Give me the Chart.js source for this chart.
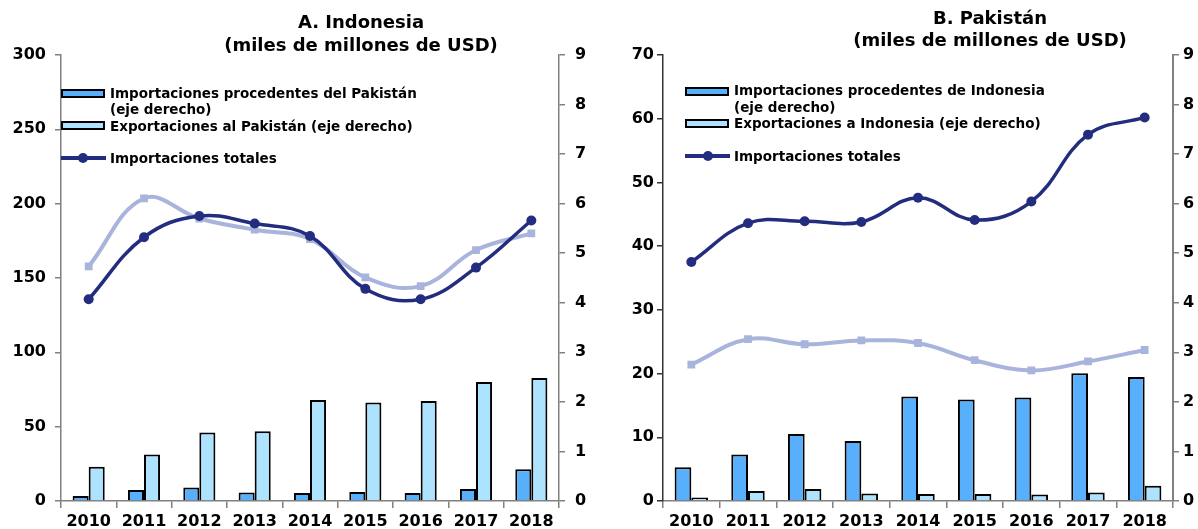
<!DOCTYPE html>
<html>
<head>
<meta charset="utf-8">
<script src="https://cdn.jsdelivr.net/npm/chart.js@4"></script>
<style>
  body { margin: 0; background: #fff; }
  #wrap { position: relative; width: 1198px; height: 529px; overflow: hidden; font-family: "DejaVu Sans", Verdana, sans-serif; }
  canvas { position: absolute; top: 0; }
  .title { position: absolute; width: 400px; text-align: center; font-weight: bold; font-size: 18px; line-height: 23px; color: #000; }
  .lg { position: absolute; font-weight: bold; font-size: 13.5px; line-height: 16px; color: #000; white-space: nowrap; }
  .sw { position: absolute; box-sizing: border-box; border: 2px solid #000; width: 44px; height: 9px; }
  .ln { position: absolute; height: 4px; width: 45px; background: #222d7f; }
  .dot { position: absolute; width: 10px; height: 10px; border-radius: 50%; background: #222d7f; }
</style>
</head>
<body>
<div id="wrap">
  <canvas id="chartA" width="599" height="529" style="left:0"></canvas>
  <canvas id="chartB" width="599" height="529" style="left:599px"></canvas>

  <div class="title" style="left:161px; top:10px">A. Indonesia<br>(miles de millones de USD)</div>
  <div class="title" style="left:790px; top:7px; line-height:22px">B. Pakistán<br>(miles de millones de USD)</div>

  <!-- legend A -->
  <div class="sw" style="left:61px; top:89px; background:#58b0fc"></div>
  <div class="lg" style="left:110px; top:85px">Importaciones procedentes del Pakistán<br>(eje derecho)</div>
  <div class="sw" style="left:61px; top:121px; background:#ade3ff"></div>
  <div class="lg" style="left:110px; top:118px">Exportaciones al Pakistán (eje derecho)</div>
  <div class="ln" style="left:61px; top:156px"></div>
  <div class="dot" style="left:78px; top:153px"></div>
  <div class="lg" style="left:110px; top:150px">Importaciones totales</div>

  <!-- legend B -->
  <div class="sw" style="left:685px; top:87px; background:#58b0fc"></div>
  <div class="lg" style="left:734px; top:82px; line-height:17px">Importaciones procedentes de Indonesia<br>(eje derecho)</div>
  <div class="sw" style="left:685px; top:119px; background:#ade3ff"></div>
  <div class="lg" style="left:734px; top:115px">Exportaciones a Indonesia (eje derecho)</div>
  <div class="ln" style="left:685px; top:154px"></div>
  <div class="dot" style="left:703px; top:151px"></div>
  <div class="lg" style="left:734px; top:148px">Importaciones totales</div>
</div>

<script>
// Years on the x axis
const years = ['2010', '2011', '2012', '2013', '2014', '2015', '2016', '2017', '2018'];

// Panel A: Indonesia
const idnImportsFromPak = [0.10, 0.22, 0.27, 0.17, 0.16, 0.18, 0.16, 0.24, 0.64]; // right axis
const idnExportsToPak = [0.69, 0.94, 1.38, 1.41, 2.04, 1.99, 2.02, 2.40, 2.48];   // right axis
const idnTotalImports = [135.7, 177.4, 191.7, 186.6, 178.2, 142.7, 135.7, 157.0, 188.7];
const idnTotalExports = [157.8, 203.5, 190.0, 182.5, 176.2, 150.4, 144.5, 168.8, 180.0];

// Panel B: Pakistan
const pakImportsFromIdn = [0.68, 0.94, 1.35, 1.21, 2.11, 2.05, 2.09, 2.58, 2.50]; // right axis
const pakExportsToIdn = [0.07, 0.20, 0.24, 0.15, 0.14, 0.14, 0.13, 0.17, 0.31];   // right axis
const pakTotalImports = [37.5, 43.6, 43.9, 43.8, 47.6, 44.1, 47.0, 57.5, 60.2];
const pakTotalExports = [21.4, 25.4, 24.6, 25.2, 24.8, 22.1, 20.5, 21.9, 23.7];

const darkBlue = '#58b0fc';
const lightBlue = '#ade3ff';
const navy = '#222d7f';
const lavender = '#a9b4dc';
const axisGray = '#808080';
const tickFont = { family: '"DejaVu Sans", Verdana, sans-serif', size: 16, weight: 'bold' };

function buildPanel(canvasId, p) {
    const ctx = document.getElementById(canvasId).getContext('2d');

    const datasets = [
        {
            type: 'line', data: p.totalImports, yAxisID: 'y', order: 0,
            borderColor: navy, backgroundColor: navy, borderWidth: 3.5,
            pointStyle: 'circle', pointRadius: 5, pointBackgroundColor: navy, pointBorderWidth: 0,
            tension: 0.4, fill: false
        },
        {
            type: 'line', data: p.totalExports, yAxisID: 'y', order: 1,
            borderColor: lavender, backgroundColor: lavender, borderWidth: 4,
            pointStyle: 'rect', pointRadius: 5.5, pointBackgroundColor: lavender, pointBorderWidth: 0,
            tension: 0.4, fill: false
        },
        {
            type: 'bar', data: p.barsDark, yAxisID: 'y1', order: 2,
            backgroundColor: darkBlue, borderColor: '#000', borderWidth: 2,
            categoryPercentage: p.catPct, barPercentage: 1
        },
        {
            type: 'bar', data: p.barsLight, yAxisID: 'y1', order: 2,
            backgroundColor: lightBlue, borderColor: '#000', borderWidth: 2,
            categoryPercentage: p.catPct, barPercentage: 1
        }
    ];

    return new Chart(ctx, {
        type: 'bar',
        data: { labels: years, datasets: datasets },
        options: {
            responsive: false,
            animation: false,
            layout: { padding: { top: 55, left: 0, right: 0, bottom: 0 } },
            plugins: { legend: { display: false }, tooltip: { enabled: false }, title: { display: false } },
            scales: {
                x: {
                    offset: true,
                    grid: { offset: true, drawOnChartArea: false, drawTicks: true, tickLength: 7, color: axisGray, lineWidth: 1.5 },
                    border: { color: axisGray, width: 1.5 },
                    ticks: { font: tickFont, color: '#000', padding: 4, maxRotation: 0 },
                    afterFit: (scale) => { scale.height = 28; }
                },
                y: {
                    position: 'left', min: 0, max: p.leftMax,
                    grid: { drawOnChartArea: false, drawTicks: true, tickLength: 6, color: p.leftColor, lineWidth: 1.5 },
                    border: { color: p.leftColor, width: 1.5 },
                    ticks: { stepSize: p.leftStep, font: tickFont, color: '#000', padding: p.leftPad },
                    afterFit: (scale) => { scale.width = p.leftWidth; }
                },
                y1: {
                    position: 'right', min: 0, max: 9,
                    grid: { drawOnChartArea: false, drawTicks: true, tickLength: 6, color: axisGray, lineWidth: 1.5 },
                    border: { color: axisGray, width: p.rightBorder },
                    ticks: { stepSize: 1, font: tickFont, color: '#000', padding: p.rightPad },
                    afterFit: (scale) => { scale.width = p.rightWidth; }
                }
            }
        }
    });
}

buildPanel('chartA', {
    totalImports: idnTotalImports, totalExports: idnTotalExports,
    barsDark: idnImportsFromPak, barsLight: idnExportsToPak,
    leftMax: 300, leftStep: 50, leftWidth: 61, rightWidth: 40, leftColor: axisGray,
    leftPad: 9, rightPad: 10, rightBorder: 1.5, catPct: 0.58
});

buildPanel('chartB', {
    totalImports: pakTotalImports, totalExports: pakTotalExports,
    barsDark: pakImportsFromIdn, barsLight: pakExportsToIdn,
    leftMax: 70, leftStep: 10, leftWidth: 64, rightWidth: 25, leftColor: '#333333',
    leftPad: 3, rightPad: 4, rightBorder: 2, catPct: 0.59
});
</script>
</body>
</html>
